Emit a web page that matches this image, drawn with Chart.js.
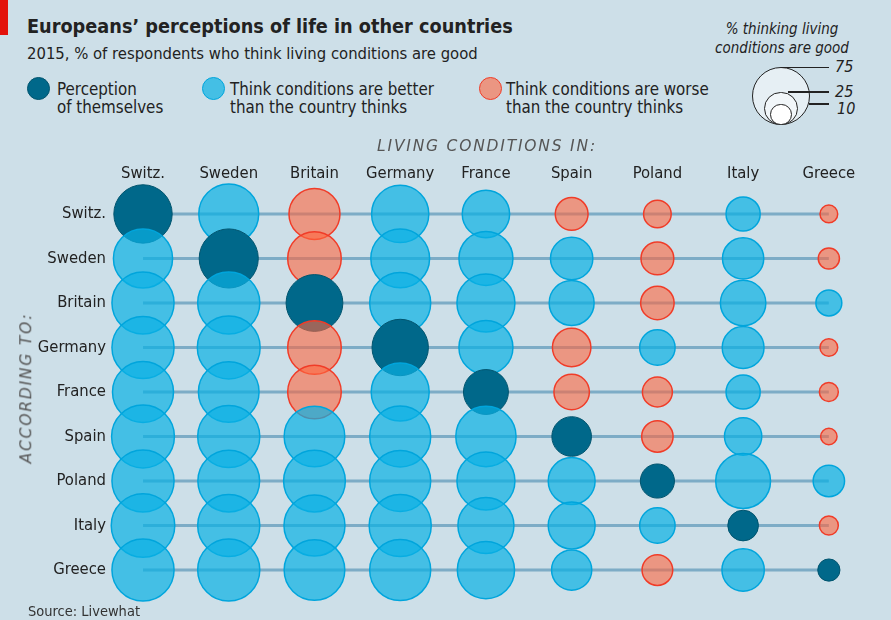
<!DOCTYPE html>
<html>
<head>
<meta charset="utf-8">
<title>Europeans' perceptions of life in other countries</title>
<script src="https://cdn.jsdelivr.net/npm/chart.js@4.4.1/dist/chart.umd.min.js"></script>
<style>
  html, body { margin: 0; padding: 0; }
  body {
    width: 891px; height: 620px; position: relative; overflow: hidden;
    background: #cddfe8; color: #222;
    font-family: "Liberation Sans Narrow", "DejaVu Sans Condensed", Roboto, sans-serif;
  }
  .t { position: absolute; white-space: nowrap; line-height: 1; }
  #bar { position: absolute; left: 0; top: 0; width: 8px; height: 35px; background: #e3120b; }
  #title { left: 27px; top: 17px; font-size: 19.7px; font-weight: bold; }
  #sub { left: 27px; top: 46px; font-size: 16.5px; }
  .key { position: absolute; font-size: 16.8px; line-height: 18px; white-space: nowrap; }
  .dot { position: absolute; width: 23px; height: 23px; border-radius: 50%; box-sizing: border-box; }
  #sizeTitle { position: absolute; left: 700px; top: 20px; width: 164px; text-align: center;
               font-size: 15px; line-height: 19px; font-style: italic; }
  .ring { position: absolute; border-radius: 50%; box-sizing: border-box; border: 1.5px solid #222; }
  .tick { position: absolute; height: 1.5px; background: #222; }
  .num { position: absolute; font-size: 16px; font-style: italic; line-height: 1; }
  .axisTitle { position: absolute; white-space: nowrap; line-height: 1; color: #555;
               font-family: "DejaVu Sans", sans-serif; font-style: italic; font-size: 15.5px; letter-spacing: 1.8px; }
  #src { left: 28px; top: 604px; font-size: 14.5px; color: #333; }
  #chartBox { position: absolute; left: 0; top: 0; width: 891px; height: 620px; }
</style>
</head>
<body>
<div id="bar"></div>
<div id="title" class="t">Europeans’ perceptions of life in other countries</div>
<div id="sub" class="t">2015, % of respondents who think living conditions are good</div>

<div class="dot" style="left:27px;top:77px;background:#00688a;border:1px solid #00546e;"></div>
<div class="key" style="left:57px;top:80px;">Perception<br>of themselves</div>
<div class="dot" style="left:202px;top:77px;background:rgba(10,176,228,0.7);border:1.5px solid #00a5dc;"></div>
<div class="key" style="left:230px;top:80px;">Think conditions are better<br>than the country thinks</div>
<div class="dot" style="left:479px;top:77px;background:rgba(255,101,62,0.6);border:1.5px solid #f03c28;"></div>
<div class="key" style="left:506px;top:80px;">Think conditions are worse<br>than the country thinks</div>

<div id="sizeTitle">% thinking living<br>conditions are good</div>
<div id="sizeKey"></div>

<div id="chartBox"><canvas id="bubbleChart"></canvas></div>
<div class="axisTitle" style="left:487px;top:147px;transform:translate(-50%,-50%);">LIVING CONDITIONS IN:</div>
<div class="axisTitle" style="left:27px;top:388px;transform:translate(-50%,-50%) rotate(-90deg);">ACCORDING TO:</div>
<div id="src" class="t">Source: Livewhat</div>

<script>
// living conditions in (columns) / according to (rows)
var countries = ["Switz.", "Sweden", "Britain", "Germany", "France", "Spain", "Poland", "Italy", "Greece"];

// % thinking living conditions are good, one array per respondent country
var switzSays   = [76, 80, 58, 73, 50, 24, 17, 26, 7];
var swedenSays  = [78, 78, 64, 77, 65, 40, 24, 38, 10];
var britainSays = [86, 86, 72, 83, 75, 45, 25, 46, 15];
var germanySays = [86, 88, 64, 71, 65, 33, 28, 39, 7];
var franceSays  = [83, 82, 64, 75, 45, 28, 20, 26, 8];
var spainSays   = [88, 86, 82, 83, 81, 35, 22, 31, 6];
var polandSays  = [86, 85, 85, 83, 75, 49, 26, 67, 22];
var italySays   = [90, 86, 83, 86, 70, 49, 28, 21, 8];
var greeceSays  = [86, 86, 82, 83, 73, 36, 21, 40, 11];

var ratings = [switzSays, swedenSays, britainSays, germanySays, franceSays,
               spainSays, polandSays, italySays, greeceSays];

var keyValues = [75, 25, 10];

// bubble area proportional to the share
function radiusOf(v) { return 29 * Math.sqrt(v / 75); }

function kind(row, col) {
    if (row === col) return "self";
    return ratings[row][col] > ratings[col][col] ? "better" : "worse";
}
var fills = { self: "#00688a", better: "rgba(10,176,228,0.7)", worse: "rgba(255,101,62,0.6)" };
var borders = { self: "#00546e", better: "#00a5dc", worse: "#f03c28" };

// size key, drawn from the same radius function
var keyBox = document.getElementById("sizeKey");
var keyX = 781, keyBottom = 125;
var keyTops = [];
keyValues.forEach(function (v, i) {
    var r = radiusOf(v);
    var ring = document.createElement("div");
    ring.className = "ring";
    ring.style.left = (keyX - r) + "px";
    ring.style.top = (keyBottom - 2 * r) + "px";
    ring.style.width = (2 * r) + "px";
    ring.style.height = (2 * r) + "px";
    ring.style.background = ["#e6eff4", "#f1f6f9", "#ffffff"][i];
    keyBox.appendChild(ring);
    keyTops.push(keyBottom - 2 * r);
});
keyValues.forEach(function (v, i) {
    var startX = [keyX, keyX + 7, keyX + 28][i];
    var line = document.createElement("div");
    line.className = "tick";
    line.style.left = startX + "px";
    line.style.top = (keyTops[i] - 0.5) + "px";
    line.style.width = (829 - startX) + "px";
    keyBox.appendChild(line);
    var num = document.createElement("div");
    num.className = "num";
    num.textContent = v;
    num.style.left = (i === 2 ? 837 : 835) + "px";
    num.style.top = (keyTops[i] - 8 + (i === 2 ? 5 : 0)) + "px";
    keyBox.appendChild(num);
});

var datasets = [];
countries.forEach(function (name, row) {
    datasets.push({
        type: "line",
        data: [{ x: 0, y: row }, { x: countries.length - 1, y: row }],
        borderColor: "rgba(60,130,170,0.55)",
        borderWidth: 3,
        pointRadius: 0,
        order: 20
    });
});
ratings.forEach(function (vals, row) {
    datasets.push({
        type: "bubble",
        label: "According to " + countries[row],
        data: vals.map(function (v, col) { return { x: col, y: row, r: radiusOf(v), v: v }; }),
        backgroundColor: function (ctx) { return fills[kind(row, ctx.dataIndex)]; },
        borderColor: function (ctx) { return borders[kind(row, ctx.dataIndex)]; },
        borderWidth: function (ctx) { return kind(row, ctx.dataIndex) === "self" ? 1 : 1.5; },
        order: 10 - row,
        clip: false
    });
});

var fontFamily = '"Liberation Sans Narrow", "DejaVu Sans Condensed", Roboto, sans-serif';
function indexTicks(scale) {
    scale.ticks = countries.map(function (c, i) { return { value: i }; });
}

var chart = new Chart(document.getElementById("bubbleChart").getContext("2d"), {
    type: "bubble",
    data: { datasets: datasets },
    options: {
        responsive: true,
        maintainAspectRatio: false,
        animation: false,
        events: [],
        layout: { autoPadding: false, padding: { top: 129.7, right: 27, bottom: 27.7, left: 0 } },
        plugins: { legend: { display: false }, tooltip: { enabled: false } },
        scales: {
            x: {
                type: "linear",
                position: "top",
                min: -0.385,
                max: 8.41,
                afterBuildTicks: indexTicks,
                afterFit: function (scale) { scale.height = 62; },
                grid: { display: false, drawTicks: false },
                border: { display: false },
                ticks: {
                    padding: 8,
                    color: "#222",
                    font: { family: fontFamily, size: 16.5 },
                    callback: function (v) { return countries[v]; }
                }
            },
            y: {
                type: "linear",
                reverse: true,
                min: -0.5,
                max: 8.5,
                afterBuildTicks: indexTicks,
                afterFit: function (scale) { scale.width = 110; },
                grid: { display: false, drawTicks: false },
                border: { display: false },
                ticks: {
                    padding: 4,
                    color: "#222",
                    font: { family: fontFamily, size: 16.5 },
                    callback: function (v) { return countries[v]; }
                }
            }
        }
    }
});
</script>
</body>
</html>
